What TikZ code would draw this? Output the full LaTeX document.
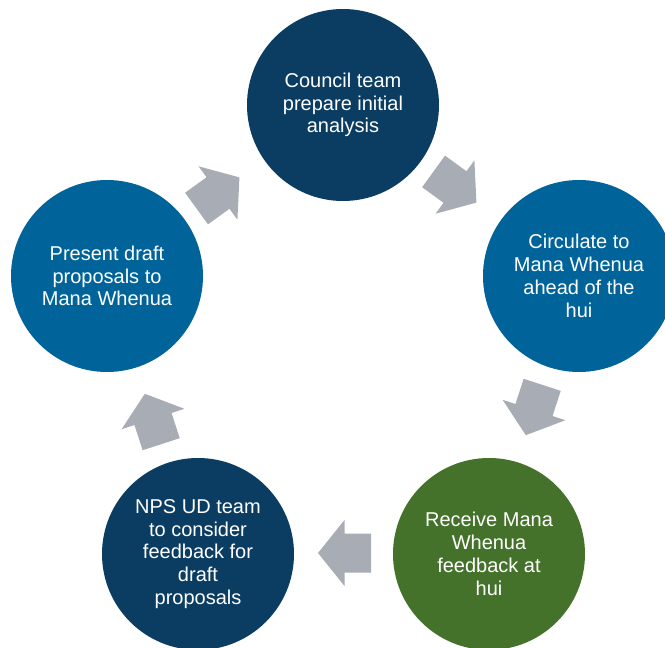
\documentclass[tikz,border=0pt]{standalone}
\usepackage{fontspec}
\setmainfont{Liberation Sans}
\definecolor{navy}{HTML}{0B3D62}
\definecolor{midblue}{HTML}{00649A}
\definecolor{leaf}{HTML}{44722A}
\definecolor{arrowgray}{HTML}{A8ADB5}
\begin{document}
\begin{tikzpicture}[x=1pt,y=-1pt,
  stage/.style={circle, minimum size=192pt, inner sep=0pt, text=white,
    align=center, font=\fontsize{20}{22.8}\selectfont},
  flowarrow/.pic={\fill[arrowgray] (-26.5,-19.5) -- (0,-19.5) -- (0,-33) -- (26.5,0)
    -- (0,33) -- (0,19.5) -- (-26.5,19.5) -- cycle;}]
\useasboundingbox (0,0) rectangle (665,648);
\clip (0,0) rectangle (665,648);
\node[stage, fill=navy] (s1) at (343,105) {Council team\\prepare initial\\analysis};
\node[stage, fill=midblue] (s2) at (579,276) {Circulate to\\Mana Whenua\\ahead of the\\hui};
\node[stage, fill=leaf] (s3) at (489,554) {Receive Mana\\Whenua\\feedback at\\hui};
\node[stage, fill=navy] (s4) at (198,554) {NPS UD team\\to consider\\feedback for\\draft\\proposals};
\node[stage, fill=midblue] (s5) at (107,276) {Present draft\\proposals to\\Mana Whenua};
\pic[rotate=36] (a51) at (218,193) {flowarrow};
\pic[rotate=-36] (a12) at (455,187) {flowarrow};
\pic[rotate=-108] (a23) at (534,410) {flowarrow};
\pic[rotate=180] (a34) at (344.5,553) {flowarrow};
\pic[rotate=108] (a45) at (153,419) {flowarrow};
\end{tikzpicture}
\end{document}
